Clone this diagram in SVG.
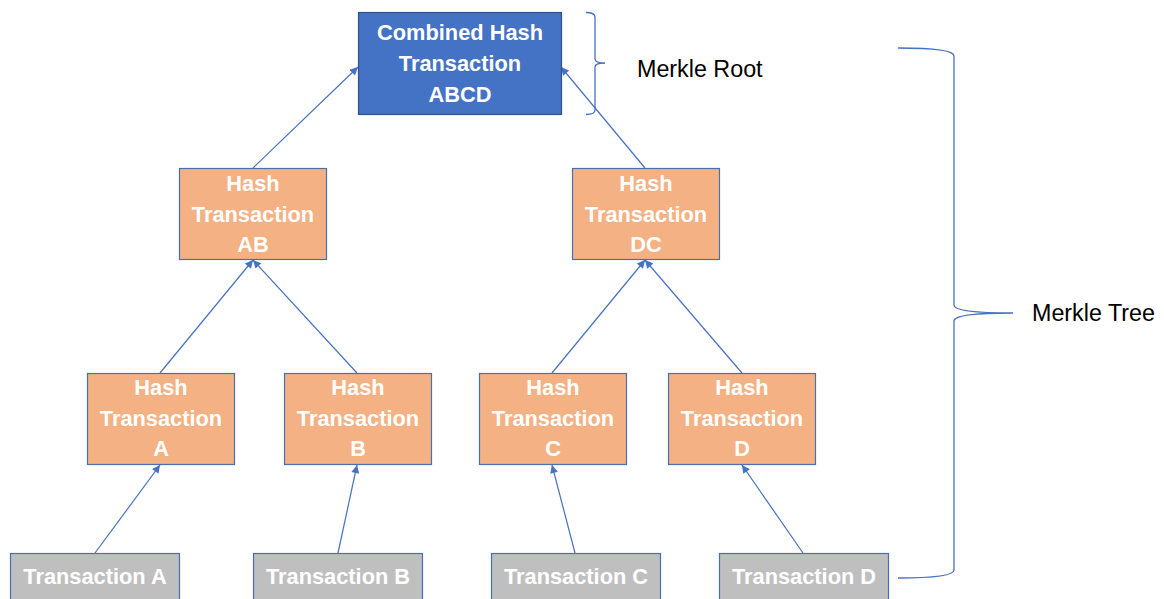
<svg xmlns="http://www.w3.org/2000/svg" width="1164" height="599" viewBox="0 0 1164 599">
<defs>
<style>
.root{fill:#4472C4;stroke:#2F528F;stroke-width:1.2}
.hash{fill:#F4B183;stroke:#4A6FB0;stroke-width:1.2}
.tx{fill:#BFBFBF;stroke:#4A6FB0;stroke-width:1.2}
.lbl{font-family:"Liberation Sans",Arial,sans-serif;font-weight:bold;font-size:21.8px;fill:#ffffff;text-anchor:middle}
.note{font-family:"Liberation Sans",Arial,sans-serif;font-size:23.3px;fill:#000000}
.conn{stroke:#4472C4;stroke-width:1.2;fill:none;marker-end:url(#ah)}
.brace{stroke:#4472C4;stroke-width:1.3;fill:none}
</style>
<marker id="ah" viewBox="0 0 10 10" refX="10" refY="5" markerWidth="9" markerHeight="8" markerUnits="userSpaceOnUse" orient="auto">
<path d="M0,0 L10,5 L0,10 z" fill="#4472C4"/>
</marker>
</defs>
<rect width="1164" height="599" fill="#ffffff"/>

<g id="connectors">
<line class="conn" x1="95" y1="553" x2="160" y2="465"/>
<line class="conn" x1="338" y1="553" x2="357" y2="465"/>
<line class="conn" x1="575" y1="553" x2="552" y2="465"/>
<line class="conn" x1="803" y1="553" x2="742" y2="465"/>
<line class="conn" x1="160" y1="373" x2="253" y2="260"/>
<line class="conn" x1="357" y1="373" x2="253" y2="260"/>
<line class="conn" x1="552" y1="373" x2="645" y2="260"/>
<line class="conn" x1="742" y1="373" x2="645" y2="260"/>
<line class="conn" x1="253" y1="168" x2="358" y2="67"/>
<line class="conn" x1="645" y1="168" x2="561" y2="67"/>
</g>

<g id="root">
<rect class="root" x="358.5" y="12.5" width="203" height="102"/>
<text class="lbl" x="460" y="40">Combined Hash</text>
<text class="lbl" x="460" y="71">Transaction</text>
<text class="lbl" x="460" y="102">ABCD</text>
</g>

<g id="hashAB">
<rect class="hash" x="179.5" y="168.5" width="147" height="91"/>
<text class="lbl" x="253" y="191">Hash</text>
<text class="lbl" x="253" y="221.5">Transaction</text>
<text class="lbl" x="253" y="252">AB</text>
</g>
<g id="hashDC">
<rect class="hash" x="572.5" y="168.5" width="147" height="91"/>
<text class="lbl" x="646" y="191">Hash</text>
<text class="lbl" x="646" y="221.5">Transaction</text>
<text class="lbl" x="646" y="252">DC</text>
</g>

<g id="hashA">
<rect class="hash" x="87.5" y="373.5" width="147" height="91"/>
<text class="lbl" x="161" y="395">Hash</text>
<text class="lbl" x="161" y="425.5">Transaction</text>
<text class="lbl" x="161" y="456">A</text>
</g>
<g id="hashB">
<rect class="hash" x="284.5" y="373.5" width="147" height="91"/>
<text class="lbl" x="358" y="395">Hash</text>
<text class="lbl" x="358" y="425.5">Transaction</text>
<text class="lbl" x="358" y="456">B</text>
</g>
<g id="hashC">
<rect class="hash" x="479.5" y="373.5" width="147" height="91"/>
<text class="lbl" x="553" y="395">Hash</text>
<text class="lbl" x="553" y="425.5">Transaction</text>
<text class="lbl" x="553" y="456">C</text>
</g>
<g id="hashD">
<rect class="hash" x="668.5" y="373.5" width="147" height="91"/>
<text class="lbl" x="742" y="395">Hash</text>
<text class="lbl" x="742" y="425.5">Transaction</text>
<text class="lbl" x="742" y="456">D</text>
</g>

<g id="txA">
<rect class="tx" x="10.5" y="553.5" width="169" height="60"/>
<text class="lbl" x="95" y="584">Transaction A</text>
</g>
<g id="txB">
<rect class="tx" x="253.5" y="553.5" width="169" height="60"/>
<text class="lbl" x="338" y="584">Transaction B</text>
</g>
<g id="txC">
<rect class="tx" x="491.5" y="553.5" width="169" height="60"/>
<text class="lbl" x="576" y="584">Transaction C</text>
</g>
<g id="txD">
<rect class="tx" x="719.5" y="553.5" width="169" height="60"/>
<text class="lbl" x="804" y="584">Transaction D</text>
</g>

<g id="merkleRoot">
<path class="brace" d="M586,12.5 Q595,12.5 595,17 V59 Q595,63 605,63 Q595,63 595,67 V110 Q595,114.5 586,114.5"/>
<text class="note" x="637" y="77">Merkle Root</text>
</g>

<g id="merkleTree">
<path class="brace" d="M898,48 Q954,48 954,56 V305 Q954,313 1013,313 Q954,313 954,321 V570 Q954,578 898,578"/>
<text class="note" x="1032" y="321">Merkle Tree</text>
</g>
</svg>
